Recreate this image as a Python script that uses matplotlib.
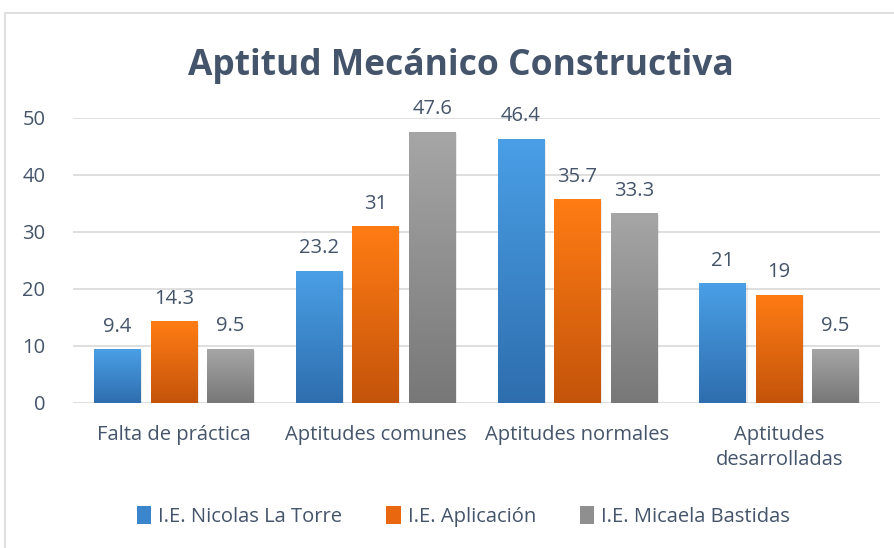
import numpy as np
import matplotlib.pyplot as plt
from matplotlib.patches import Rectangle
from matplotlib.colors import LinearSegmentedColormap

categories = ['Falta de práctica', 'Aptitudes comunes', 'Aptitudes normales', 'Aptitudes\ndesarrolladas']
series_names = ['I.E. Nicolas La Torre', 'I.E. Aplicación', 'I.E. Micaela Bastidas']
nicolas = [9.4, 23.2, 46.4, 21]
aplicacion = [14.3, 31, 35.7, 19]
micaela = [9.5, 47.6, 33.3, 9.5]
labels = [['9.4', '23.2', '46.4', '21'], ['14.3', '31', '35.7', '19'], ['9.5', '47.6', '33.3', '9.5']]

# top / bottom colours of each gradient
grads = [('#4a9fe6', '#2e6eae'), ('#ff7c14', '#c4540b'), ('#a6a6a6', '#787878')]

plt.rcParams['font.family'] = ['Open Sans', 'DejaVu Sans']
fig = plt.figure(figsize=(8.95, 5.48), dpi=100)
ax = fig.add_axes([0.0816, 0.2646, 0.9017, 0.5201])

# outer chart border (runs off the right and bottom edges)
fig.patches.append(Rectangle((5 / 895, -0.1), 1.2, 1.1 - 13 / 548, transform=fig.transFigure,
                             fill=False, edgecolor='#d9d9d9', linewidth=1.2))

x = np.arange(len(categories))
w = 0.23
gap = 0.05
for i, vals in enumerate([nicolas, aplicacion, micaela]):
    top, bot = grads[i]
    cmap = LinearSegmentedColormap.from_list('g%d' % i, [bot, top])
    offs = (i - 1) * (w + gap)
    for j, v in enumerate(vals):
        x0 = x[j] + offs - w / 2
        # soft shadow
        ax.add_patch(Rectangle((x0 + 0.008, -0.3), w, v, facecolor='#000000', alpha=0.08,
                               edgecolor='none', zorder=2))
        rect = Rectangle((x0, 0), w, v, facecolor='none', edgecolor='none', zorder=3)
        ax.add_patch(rect)
        im = ax.imshow(np.linspace(0, 1, 100).reshape(-1, 1), cmap=cmap, aspect='auto',
                       extent=[x0, x0 + w, 0, v], origin='lower', zorder=3)
        im.set_clip_path(rect)
        ax.text(x[j] + offs, v + 2.2, labels[i][j], ha='center', va='bottom',
                fontsize=14.5, color='#44546a', clip_on=False)

ax.set_xlim(-0.5, len(categories) - 0.5)
ax.set_ylim(0, 50)
ax.set_yticks([0, 10, 20, 30, 40, 50])
ax.set_xticks(x)
ax.set_xticklabels(categories, fontsize=14.5, color='#44546a', linespacing=1.35)
ax.tick_params(axis='y', labelsize=14.5, labelcolor='#44546a', length=0, pad=20)
ax.tick_params(axis='x', length=0, pad=16)
ax.grid(axis='y', color='#d9d9d9', linewidth=1.2, zorder=0)
ax.set_axisbelow(True)
for s in ax.spines.values():
    s.set_visible(False)

fig.text(0.515, 0.88, 'Aptitud Mecánico Constructiva', ha='center', va='center',
         fontsize=25.5, fontweight='bold', color='#44546a')

handles = [Rectangle((0, 0), 1, 1, facecolor=c) for c in ['#3a85cc', '#e8670f', '#8f8f8f']]
fig.legend(handles, series_names, loc='center', bbox_to_anchor=(0.518, 0.058), ncol=3,
           frameon=False, fontsize=14.5, labelcolor='#44546a', handlelength=0.7,
           handleheight=1.0, handletextpad=0.35, columnspacing=2.2)

fig.savefig('out.png', dpi=100)
